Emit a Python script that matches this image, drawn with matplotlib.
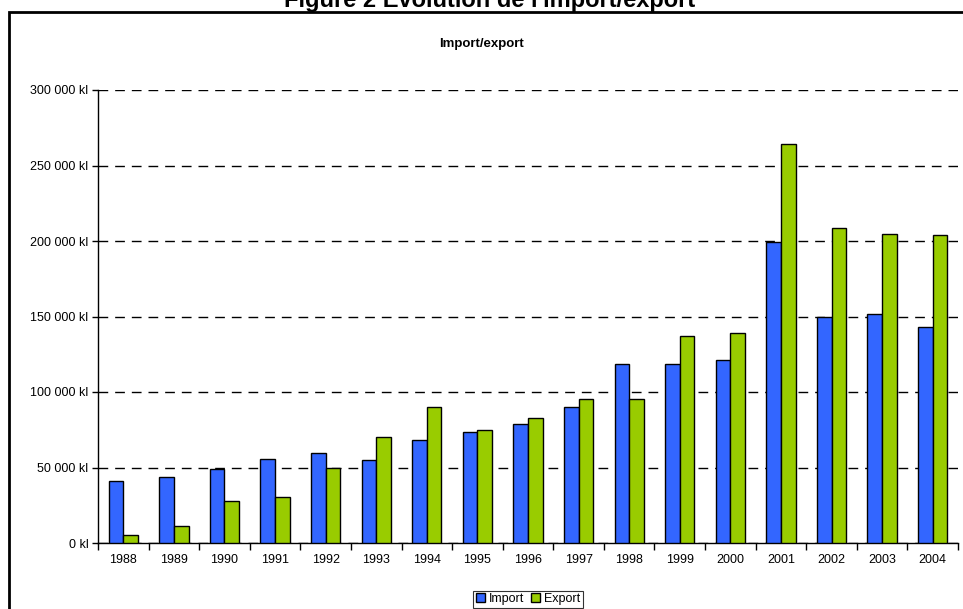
import numpy as np
import matplotlib.pyplot as plt
from matplotlib.patches import Rectangle
from matplotlib.ticker import FuncFormatter, FixedLocator

plt.rcParams['font.family'] = ['Liberation Sans', 'DejaVu Sans']

annees = [str(a) for a in range(1988, 2005)]
import_kl = [41000, 43700, 49200, 55400, 59400, 55000, 68200, 73700, 78800,
             90300, 118500, 118500, 121300, 199200, 149900, 151900, 143300]
export_kl = [5500, 11300, 27600, 30300, 49700, 70000, 90000, 74800, 83000,
             95600, 95600, 136800, 138900, 264100, 208900, 204900, 203800]

fig = plt.figure(figsize=(9.63, 6.09), dpi=100)
ax = fig.add_axes([98 / 963, 66 / 609, 860 / 963, 453 / 609])

x = np.arange(len(annees))
w = 0.29
ax.bar(x - w / 2, import_kl, w, color='#3366FF', edgecolor='black', linewidth=1.0,
       label='Import', zorder=3)
ax.bar(x + w / 2, export_kl, w, color='#99CC00', edgecolor='black', linewidth=1.0,
       label='Export', zorder=3)

ax.set_xlim(-0.5, len(annees) - 0.5)
ax.set_ylim(0, 300000)
ax.set_yticks(range(0, 300001, 50000))
ax.yaxis.set_major_formatter(FuncFormatter(lambda v, p: f"{int(v):,} kl".replace(',', ' ')))
ax.set_xticks(x)
ax.set_xticklabels(annees)
ax.xaxis.set_minor_locator(FixedLocator(np.arange(-0.5, len(annees), 1.0)))
ax.tick_params(axis='x', which='major', length=0, pad=8, labelsize=9)
ax.tick_params(axis='x', which='minor', length=5, width=1, direction='out')
ax.tick_params(axis='y', length=4, width=1, pad=3, labelsize=9)

for s in ['top', 'right']:
    ax.spines[s].set_visible(False)
for s in ['left', 'bottom']:
    ax.spines[s].set_linewidth(1)
ax.yaxis.grid(True, color='black', linestyle=(0, (7, 5)), linewidth=1, zorder=0)
ax.set_axisbelow(True)

fig.text(0.5, 1 - 44 / 609, 'Import/export', ha='center', va='center',
         fontsize=9.5, fontweight='bold')
fig.text(490 / 963, 1 - 7 / 609, "Figure 2 Evolution de l'import/export", ha='center',
         va='baseline', fontsize=17, fontweight='bold')

# cadre autour du graphique
fig.patches.append(Rectangle((9 / 963, -0.1), 1.2, 0.1 + (609 - 12) / 609,
                             transform=fig.transFigure, fill=False,
                             edgecolor='black', linewidth=2))

leg = fig.legend(loc='center', bbox_to_anchor=(528 / 963, 1 - 599 / 609), ncol=2,
                 fontsize=9, frameon=True, fancybox=False, edgecolor='black',
                 handlelength=0.7, handleheight=0.7, handletextpad=0.3,
                 columnspacing=0.6, borderpad=0.2, borderaxespad=0)
leg.get_frame().set_linewidth(0.8)

fig.savefig('out.png', dpi=100)
